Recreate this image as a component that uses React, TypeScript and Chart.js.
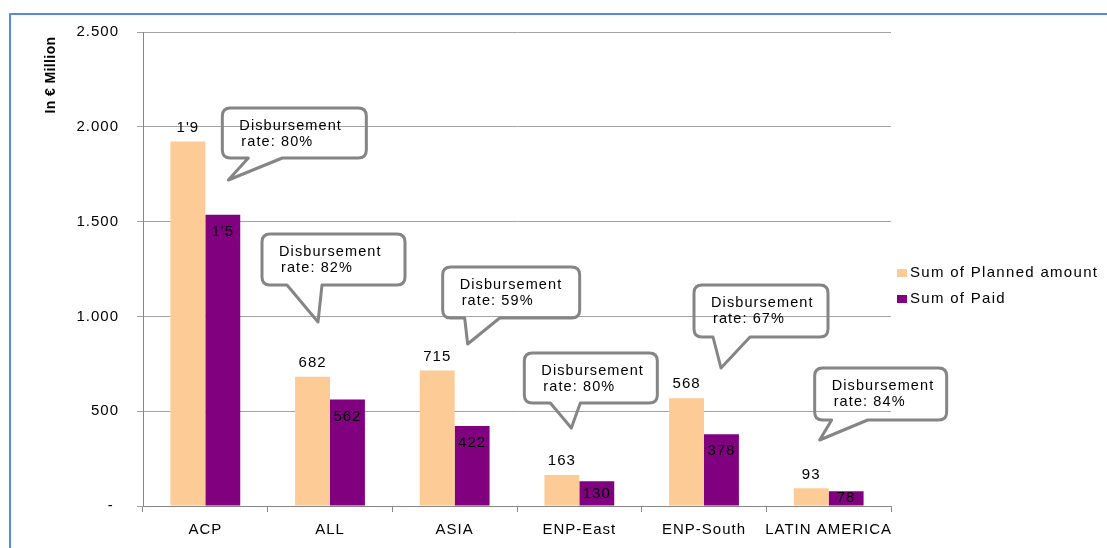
import React, { useEffect, useRef } from 'react';
import { Chart, registerables } from 'chart.js';

Chart.register(...registerables);

// Regional disbursement data (EUR million)
const categories = ['ACP', 'ALL', 'ASIA', 'ENP-East', 'ENP-South', 'LATIN AMERICA'];
const plannedAmount = [1922, 682, 715, 163, 568, 93];
const paidAmount = [1536, 562, 422, 130, 378, 78];
const disbursementRate = [80, 82, 59, 80, 67, 84];
const yTickValues = [0, 500, 1000, 1500, 2000, 2500];
const seriesNames = ['Sum of Planned amount', 'Sum of Paid'];
const axisTitle = 'In € Million';

const FONT = "'Liberation Sans', Arial, sans-serif";
const PEACH = '#FCCB96';
const PURPLE = '#800080';
const GRID = '#a3a3a3';
const AXIS = '#868686';
const CALLOUT_STROKE = '#858585';
const FRAME = '#558ED5';
const SPACING = '1px';

// Speech-bubble placement: x offsets from the category centre, y offsets from the plot top
const calloutPlacement = [
  { dx: 17, w: 144, top: 76, h: 50, tipDx: 23, tipY: 148, baseL: 43, baseR: 77 },
  { dx: -68, w: 143, top: 202, h: 51, tipDx: -12, tipY: 290, baseL: -43, baseR: -8 },
  { dx: -12, w: 137, top: 235, h: 51, tipDx: 13, tipY: 312, baseL: 10, baseR: 45 },
  { dx: -55, w: 133, top: 321, h: 50, tipDx: -8, tipY: 396, baseL: -29, baseR: 1 },
  { dx: -10, w: 134, top: 253, h: 52, tipDx: 17, tipY: 336, baseL: 9, baseR: 46 },
  { dx: -14, w: 132, top: 336, h: 52, tipDx: -9, tipY: 408, baseL: 3, baseR: 39 },
];

function formatAmount(v: number): string {
  if (v >= 1000) return `${Math.floor(v / 1000)}'${Math.floor((v % 1000) / 100)}`;
  return String(Math.round(v));
}

function formatTick(v: number): string {
  if (v === 0) return '- ';
  if (v >= 1000) return `${Math.floor(v / 1000)}.${String(v % 1000).padStart(3, '0')}`;
  return String(v);
}

const spacingPlugin = {
  id: 'letterSpacing',
  beforeUpdate(chart: any) {
    chart.ctx.letterSpacing = SPACING;
  },
  beforeDraw(chart: any) {
    chart.ctx.letterSpacing = SPACING;
  },
};

const valueLabelPlugin = {
  id: 'valueLabels',
  afterDatasetsDraw(chart: any) {
    const ctx = chart.ctx;
    ctx.save();
    ctx.letterSpacing = SPACING;
    ctx.font = `15px ${FONT}`;
    ctx.fillStyle = '#000';
    ctx.textAlign = 'center';
    ctx.textBaseline = 'middle';
    chart.data.datasets.forEach((ds: any, di: number) => {
      const meta = chart.getDatasetMeta(di);
      meta.data.forEach((bar: any, i: number) => {
        const value = ds.data[i] as number;
        const text = formatAmount(value);
        if (di === 0) {
          ctx.fillText(text, bar.x, bar.y - 14);
        } else {
          const h = bar.base - bar.y;
          ctx.fillText(text, bar.x, bar.y + Math.min(17, h / 2));
        }
      });
    });
    ctx.restore();
  },
};

const decorationPlugin = {
  id: 'decorations',
  afterDraw(chart: any) {
    const ctx = chart.ctx;
    const area = chart.chartArea;
    const xScale = chart.scales.x;

    // speech bubbles with the disbursement rate
    ctx.save();
    calloutPlacement.forEach((p, i) => {
      const cx = xScale.getPixelForValue(i);
      const left = cx + p.dx;
      const right = left + p.w;
      const top = area.top + p.top;
      const bottom = top + p.h;
      const r = 8;
      const tipX = cx + p.tipDx;
      const tipY = area.top + p.tipY;
      const bl = cx + p.baseL;
      const br = cx + p.baseR;
      ctx.beginPath();
      ctx.moveTo(left + r, top);
      ctx.lineTo(right - r, top);
      ctx.quadraticCurveTo(right, top, right, top + r);
      ctx.lineTo(right, bottom - r);
      ctx.quadraticCurveTo(right, bottom, right - r, bottom);
      ctx.lineTo(br, bottom);
      ctx.lineTo(tipX, tipY);
      ctx.lineTo(bl, bottom);
      ctx.lineTo(left + r, bottom);
      ctx.quadraticCurveTo(left, bottom, left, bottom - r);
      ctx.lineTo(left, top + r);
      ctx.quadraticCurveTo(left, top, left + r, top);
      ctx.closePath();
      ctx.lineJoin = 'round';
      ctx.lineWidth = 3;
      ctx.strokeStyle = CALLOUT_STROKE;
      ctx.stroke();

      ctx.font = `14.5px ${FONT}`;
      ctx.letterSpacing = '1.1px';
      ctx.fillStyle = '#000';
      ctx.textAlign = 'left';
      ctx.textBaseline = 'middle';
      ctx.fillText('Disbursement', left + 17, top + 18);
      ctx.fillText(`rate: ${disbursementRate[i]}%`, left + 19, top + 34);
    });

    // legend
    const legendX = area.right + 6;
    const legendY = [273, 299];
    const colors = [PEACH, PURPLE];
    ctx.font = `15px ${FONT}`;
    ctx.letterSpacing = '1.3px';
    seriesNames.forEach((name, i) => {
      ctx.fillStyle = colors[i];
      ctx.fillRect(legendX, legendY[i] - 4, 10, 8);
      ctx.fillStyle = '#000';
      ctx.textAlign = 'left';
      ctx.textBaseline = 'middle';
      ctx.fillText(name, legendX + 13, legendY[i]);
    });

    // rotated axis title
    ctx.save();
    ctx.translate(51, 75);
    ctx.rotate(-Math.PI / 2);
    ctx.font = `bold 14px ${FONT}`;
    ctx.letterSpacing = '0.4px';
    ctx.fillStyle = '#000';
    ctx.textAlign = 'center';
    ctx.textBaseline = 'middle';
    ctx.fillText(axisTitle, 0, 0);
    ctx.restore();

    // outer frame
    ctx.beginPath();
    ctx.moveTo(10, chart.height);
    ctx.lineTo(10, 14);
    ctx.lineTo(chart.width, 14);
    ctx.lineWidth = 2;
    ctx.strokeStyle = FRAME;
    ctx.stroke();
    ctx.restore();
  },
};

export default function App() {
  const canvasRef = useRef<HTMLCanvasElement | null>(null);

  useEffect(() => {
    if (!canvasRef.current) return;
    Chart.defaults.font.family = FONT;
    const chart = new Chart(canvasRef.current, {
      type: 'bar',
      data: {
        labels: categories,
        datasets: [
          {
            label: seriesNames[0],
            data: plannedAmount,
            backgroundColor: PEACH,
            borderWidth: 0,
            categoryPercentage: 0.56,
            barPercentage: 1,
          },
          {
            label: seriesNames[1],
            data: paidAmount,
            backgroundColor: PURPLE,
            borderWidth: 0,
            categoryPercentage: 0.56,
            barPercentage: 1,
          },
        ],
      },
      options: {
        responsive: false,
        animation: false,
        devicePixelRatio: 1,
        layout: { padding: { top: 32, right: 216, bottom: 0, left: 0 } },
        plugins: {
          legend: { display: false },
          tooltip: { enabled: false },
          title: { display: false },
        },
        scales: {
          x: {
            offset: true,
            grid: {
              display: true,
              offset: true,
              drawOnChartArea: false,
              drawTicks: true,
              tickLength: 6,
              color: AXIS,
            },
            border: { display: true, color: AXIS, width: 1 },
            ticks: {
              color: '#000',
              font: { size: 15, family: FONT },
              padding: 9,
              maxRotation: 0,
              autoSkip: false,
            },
            afterFit(scale: any) {
              scale.height = 42;
            },
          },
          y: {
            min: 0,
            max: 2500,
            grid: {
              color: GRID,
              lineWidth: 1,
              drawTicks: true,
              tickLength: 6,
            },
            border: { display: true, color: AXIS, width: 1 },
            ticks: {
              color: '#000',
              font: { size: 15, family: FONT },
              padding: 18,
              callback: (v: any) => formatTick(Number(v)),
            },
            afterBuildTicks(scale: any) {
              scale.ticks = yTickValues.map((v) => ({ value: v }));
            },
            afterFit(scale: any) {
              scale.width = 143;
            },
          },
        },
      },
      plugins: [spacingPlugin, valueLabelPlugin, decorationPlugin],
    });
    return () => chart.destroy();
  }, []);

  return (
    <div style={{ position: 'fixed', left: 0, top: 0, width: 1107, height: 548, background: '#fff' }}>
      <canvas ref={canvasRef} width={1107} height={548} style={{ display: 'block' }} />
    </div>
  );
}
